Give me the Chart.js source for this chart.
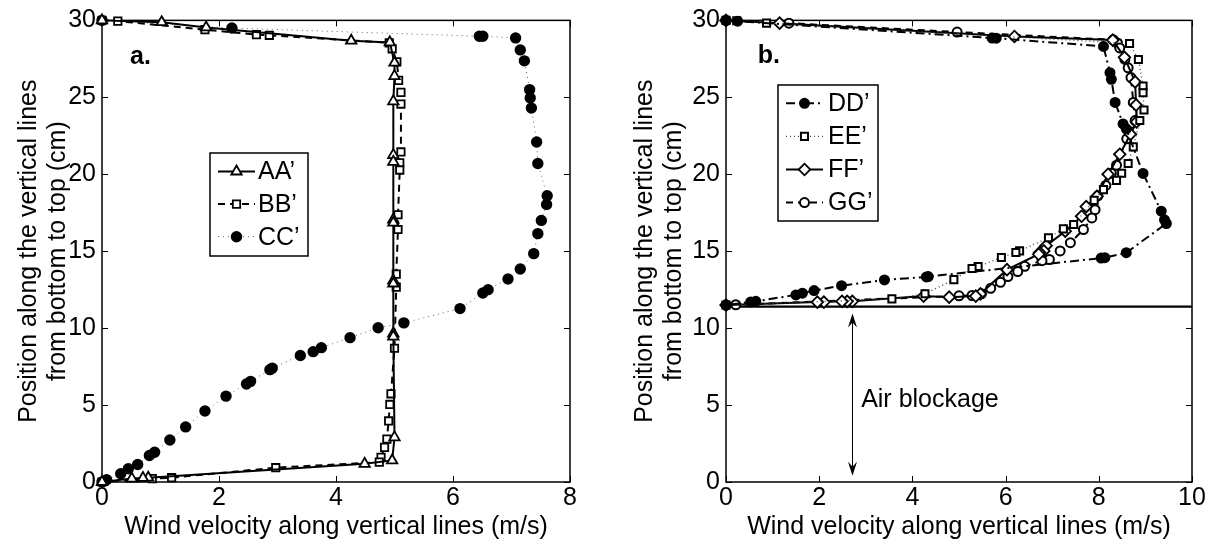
<!DOCTYPE html>
<html>
<head>
<meta charset="utf-8">
<script src="https://cdn.jsdelivr.net/npm/chart.js@4.4.1/dist/chart.umd.min.js"></script>
<style>
  html, body { margin: 0; padding: 0; background: #fff; }
  #quadro { position: relative; width: 1214px; height: 545px; overflow: hidden; }
  canvas { position: absolute; top: 0; }
  #graficoA { left: 0; }
  #graficoB { left: 607px; }
</style>
</head>
<body>
<div id="quadro">
  <canvas id="graficoA" width="607" height="545"></canvas>
  <canvas id="graficoB" width="607" height="545"></canvas>
</div>
<script>
// ---- eixos ----
const xTicksA = [0, 2, 4, 6, 8];
const xTicksB = [0, 2, 4, 6, 8, 10];
const yTicks = [0, 5, 10, 15, 20, 25, 30];
const tituloX = 'Wind velocity along vertical lines (m/s)';
const tituloY = ['Position along the vertical lines', 'from bottom to top (cm)'];

// ---- painel a ----
const aaX = [0, 1.02, 1.78, 4.26, 4.92, 5.0, 5.0, 4.98, 4.98, 4.98, 4.98, 4.98, 4.98, 4.98, 4.98, 4.98, 5.0, 4.96, 4.49, 0.79, 0.7, 0.51, 0];
const aaY = [30, 29.88, 29.54, 28.68, 28.57, 27.25, 26.38, 24.74, 21.24, 20.81, 17.05, 16.85, 13.09, 12.9, 9.65, 9.45, 2.9, 1.4, 1.18, 0.28, 0.26, 0.22, 0];

const bbX = [0, 0.27, 1.76, 2.64, 2.86, 4.91, 4.96, 5.04, 5.07, 5.11, 5.11, 5.11, 5.09, 5.09, 5.06, 5.06, 5.03, 5.03, 5.0, 4.94, 4.92, 4.9, 4.87, 4.83, 4.77, 4.74, 2.97, 1.19, 0.86, 0];
const bbY = [30, 29.95, 29.4, 29.07, 29.03, 28.54, 28.15, 27.31, 26.1, 25.32, 24.56, 21.45, 20.75, 20.27, 17.37, 16.41, 13.51, 12.66, 8.69, 5.73, 5.04, 3.97, 2.79, 2.25, 1.61, 1.29, 0.93, 0.28, 0.22, 0];

const ccX = [0, 2.22, 6.45, 6.51, 7.07, 7.15, 7.22, 7.31, 7.32, 7.34, 7.43, 7.45, 7.61, 7.6, 7.51, 7.45, 7.38, 7.15, 6.94, 6.6, 6.51, 6.12, 5.16, 4.72, 4.24, 3.75, 3.61, 3.39, 2.91, 2.87, 2.54, 2.47, 2.12, 1.76, 1.43, 1.16, 0.9, 0.81, 0.61, 0.45, 0.32, 0.08, 0];
const ccY = [30, 29.5, 28.97, 28.97, 28.86, 28.08, 27.37, 25.5, 24.96, 24.3, 22.1, 20.7, 18.6, 18.04, 17.0, 16.14, 14.84, 13.84, 13.19, 12.5, 12.28, 11.27, 10.34, 10.02, 9.38, 8.73, 8.47, 8.22, 7.4, 7.3, 6.54, 6.37, 5.58, 4.61, 3.58, 2.73, 1.93, 1.72, 1.14, 0.86, 0.54, 0.15, 0];

// ---- painel b ----
const ddX = [0, 0.25, 5.71, 5.8, 8.1, 8.24, 8.27, 8.35, 8.52, 8.59, 8.95, 9.34, 9.41, 9.45, 8.59, 8.13, 8.05, 4.34, 4.3, 3.4, 2.48, 1.89, 1.64, 1.5, 0.64, 0.53, 0];
const ddY = [30, 29.95, 28.85, 28.84, 28.31, 26.6, 26.17, 24.67, 23.27, 22.95, 20.05, 17.6, 17.04, 16.8, 14.9, 14.58, 14.55, 13.35, 13.33, 13.13, 12.76, 12.44, 12.27, 12.16, 11.74, 11.7, 11.5];

const eeX = [0, 0.23, 0.87, 8.66, 8.85, 8.95, 8.95, 8.97, 8.88, 8.74, 8.63, 8.49, 8.38, 8.1, 7.9, 7.46, 7.24, 6.92, 6.3, 6.22, 5.91, 5.41, 5.28, 4.89, 4.27, 3.56, 0];
const eeY = [30, 29.98, 29.82, 28.5, 27.46, 25.74, 25.3, 24.18, 23.49, 21.78, 20.7, 20.06, 19.6, 19.0, 18.3, 16.73, 16.45, 15.87, 15.02, 14.91, 14.59, 14.0, 13.88, 13.15, 12.23, 11.9, 11.5];

const ffX = [0, 1.15, 6.19, 8.3, 8.55, 8.78, 8.8, 8.81, 8.68, 8.45, 8.2, 7.96, 7.73, 7.63, 7.28, 6.87, 6.82, 6.73, 6.71, 6.03, 5.46, 5.36, 4.79, 4.24, 2.71, 2.6, 2.49, 2.1, 1.96, 0];
const ffY = [30, 29.82, 28.95, 28.72, 27.6, 26.0, 24.5, 23.4, 22.6, 21.3, 20.0, 18.56, 17.9, 17.27, 16.3, 15.36, 15.02, 14.91, 14.8, 13.8, 12.23, 12.08, 12.01, 12.08, 11.74, 11.74, 11.74, 11.69, 11.69, 11.5];

const ggX = [0, 1.35, 4.96, 8.31, 8.4, 8.45, 8.56, 8.63, 8.69, 8.74, 8.78, 8.6, 8.38, 8.27, 8.15, 7.98, 7.92, 7.85, 7.67, 7.39, 7.17, 6.94, 6.78, 6.41, 6.26, 6.05, 5.89, 5.68, 5.48, 5.28, 5.0, 0.21, 0];
const ggY = [30, 29.82, 29.24, 28.74, 28.53, 28.21, 27.46, 26.92, 26.28, 24.67, 23.49, 22.3, 20.59, 20.06, 19.27, 18.6, 17.7, 17.16, 16.41, 15.55, 15.02, 14.46, 14.38, 14.02, 13.68, 13.35, 12.98, 12.59, 12.23, 12.12, 12.1, 11.52, 11.5];

// bloqueio de ar
const bloqueioX = [0, 10];
const bloqueioY = [11.4, 11.4];
const setaX = 2.7, setaTopo = 10.95, setaBase = 0.4;
const textoBloqueio = 'Air blockage';
const textoBloqueioPos = [2.9, 5.3];

const FONTE = '"Liberation Sans", Arial, Helvetica, sans-serif';

function serie(label, xs, ys, estilo) {
  return Object.assign({
    label: label,
    data: xs.map((x, i) => ({ x: x, y: ys[i] })),
    showLine: true,
    borderColor: '#000',
    borderWidth: 2,
    pointBorderColor: '#000',
    pointBackgroundColor: '#fff',
    pointBorderWidth: 1.8,
    clip: false,
    tension: 0
  }, estilo);
}

function escalas(xMax, xTicks, larguraY, padTituloY) {
  const fonte = { size: 25, family: FONTE, lineHeight: 1.15 };
  return {
    x: {
      type: 'linear', min: 0, max: xMax,
      afterBuildTicks: s => { s.ticks = xTicks.map(v => ({ value: v })); },
      afterFit: s => { s.height = 63; },
      grid: { display: false, drawTicks: false },
      border: { display: false },
      ticks: { color: '#000', font: fonte, padding: 2, maxRotation: 0, autoSkip: false },
      title: { display: true, text: tituloX, color: '#000', font: fonte, padding: { top: 0, bottom: 4 } }
    },
    y: {
      type: 'linear', min: 0, max: 30,
      afterBuildTicks: s => { s.ticks = yTicks.map(v => ({ value: v })); },
      afterFit: s => { s.width = larguraY; },
      grid: { display: false, drawTicks: false },
      border: { display: false },
      ticks: { color: '#000', font: fonte, padding: 6, autoSkip: false },
      title: { display: true, text: tituloY, color: '#000', font: fonte, padding: { top: padTituloY, bottom: 0 } }
    }
  };
}

// moldura com marcas para dentro (estilo MATLAB)
const moldura = {
  id: 'moldura',
  beforeDatasetsDraw(chart) {
    const { ctx, chartArea: a, scales } = chart;
    ctx.save();
    ctx.strokeStyle = '#000';
    ctx.lineWidth = 1;
    ctx.beginPath();
    scales.x.ticks.forEach(t => {
      const px = Math.round(scales.x.getPixelForValue(t.value)) + 0.5;
      ctx.moveTo(px, a.bottom); ctx.lineTo(px, a.bottom - 6);
      ctx.moveTo(px, a.top); ctx.lineTo(px, a.top + 6);
    });
    scales.y.ticks.forEach(t => {
      const py = Math.round(scales.y.getPixelForValue(t.value)) + 0.5;
      ctx.moveTo(a.left, py); ctx.lineTo(a.left + 6, py);
      ctx.moveTo(a.right, py); ctx.lineTo(a.right - 6, py);
    });
    ctx.stroke();
    ctx.lineWidth = 1.5;
    ctx.strokeRect(a.left, a.top, a.right - a.left, a.bottom - a.top);
    ctx.restore();
  }
};

function desenharMarcador(ctx, ds, x, y) {
  ctx.save();
  ctx.setLineDash([]);
  ctx.fillStyle = ds.pointBackgroundColor;
  ctx.strokeStyle = ds.pointBorderColor;
  ctx.lineWidth = ds.pointBorderWidth;
  Chart.helpers.drawPoint(ctx, { pointStyle: ds.pointStyle, radius: ds.pointRadius, rotation: 0, borderWidth: ds.pointBorderWidth }, x, y);
  ctx.restore();
}

// legenda desenhada dentro do gráfico
const legendaCaixa = {
  id: 'legendaCaixa',
  afterDraw(chart, args, opts) {
    const ctx = chart.ctx;
    const itens = chart.data.datasets.filter(d => d.label);
    ctx.save();
    ctx.fillStyle = '#fff';
    ctx.fillRect(opts.x, opts.y, opts.w, opts.h);
    ctx.strokeStyle = '#000';
    ctx.lineWidth = 1.5;
    ctx.strokeRect(opts.x, opts.y, opts.w, opts.h);
    itens.forEach((ds, i) => {
      const cy = opts.linha0 + i * opts.passo;
      ctx.save();
      ctx.strokeStyle = ds.borderColor;
      ctx.lineWidth = ds.borderWidth;
      ctx.setLineDash(ds.borderDash || []);
      ctx.beginPath();
      ctx.moveTo(opts.x + opts.traco0, cy);
      ctx.lineTo(opts.x + opts.traco1, cy);
      ctx.stroke();
      ctx.restore();
      desenharMarcador(ctx, ds, opts.x + (opts.traco0 + opts.traco1) / 2, cy);
      ctx.fillStyle = '#000';
      ctx.font = '25px ' + FONTE;
      ctx.textBaseline = 'middle';
      ctx.textAlign = 'left';
      ctx.fillText(ds.label, opts.x + opts.texto, cy + 1);
    });
    ctx.restore();
  }
};

// letras dos painéis e anotações
const anotacoes = {
  id: 'anotacoes',
  afterDatasetsDraw(chart, args, opts) {
    const { ctx, scales } = chart;
    ctx.save();
    ctx.fillStyle = '#000';
    ctx.font = 'bold 25px ' + FONTE;
    ctx.textBaseline = 'alphabetic';
    ctx.fillText(opts.letra, scales.x.getPixelForValue(opts.letraPos[0]), scales.y.getPixelForValue(opts.letraPos[1]));
    if (opts.seta) {
      const sx = Math.round(scales.x.getPixelForValue(setaX)) + 0.5;
      const y1 = scales.y.getPixelForValue(setaTopo);
      const y2 = scales.y.getPixelForValue(setaBase);
      ctx.strokeStyle = '#000';
      ctx.lineWidth = 1;
      ctx.beginPath();
      ctx.moveTo(sx, y1 + 6); ctx.lineTo(sx, y2 - 6);
      ctx.stroke();
      [[y1, 1], [y2, -1]].forEach(([py, d]) => {
        ctx.beginPath();
        ctx.moveTo(sx, py);
        ctx.lineTo(sx - 4.5, py + d * 14);
        ctx.lineTo(sx, py + d * 9);
        ctx.lineTo(sx + 4.5, py + d * 14);
        ctx.closePath();
        ctx.fill();
      });
      ctx.font = '25px ' + FONTE;
      ctx.textBaseline = 'middle';
      ctx.fillText(textoBloqueio, scales.x.getPixelForValue(textoBloqueioPos[0]), scales.y.getPixelForValue(textoBloqueioPos[1]));
    }
    ctx.restore();
  }
};

Chart.defaults.font.family = FONTE;

new Chart(document.getElementById('graficoA').getContext('2d'), {
  type: 'scatter',
  data: {
    datasets: [
      serie('AA\u2019', aaX, aaY, { pointStyle: 'triangle', pointRadius: 6 }),
      serie('BB\u2019', bbX, bbY, { borderDash: [7, 5], pointStyle: 'rect', pointRadius: 5.2 }),
      serie('CC\u2019', ccX, ccY, { borderColor: '#666', borderWidth: 1, borderDash: [1, 4], pointStyle: 'circle', pointRadius: 4.8, pointBackgroundColor: '#000' })
    ]
  },
  options: {
    responsive: false,
    animation: false,
    layout: { padding: { left: 0, right: 37, top: 15, bottom: 0 } },
    scales: escalas(8, xTicksA, 102, 14.6),
    plugins: {
      legend: { display: false },
      tooltip: { enabled: false },
      legendaCaixa: { x: 210, y: 153, w: 98, h: 103, linha0: 171.5, passo: 32.6, traco0: 8, traco1: 45, texto: 48 },
      anotacoes: { letra: 'a.', letraPos: [0.48, 27.14], seta: false }
    }
  },
  plugins: [moldura, anotacoes, legendaCaixa]
});

new Chart(document.getElementById('graficoB').getContext('2d'), {
  type: 'scatter',
  data: {
    datasets: [
      serie('DD\u2019', ddX, ddY, { borderDash: [9, 4, 2, 4], pointStyle: 'circle', pointRadius: 4.6, pointBackgroundColor: '#000' }),
      serie('EE\u2019', eeX, eeY, { borderColor: '#444', borderWidth: 1.3, borderDash: [1, 3], pointStyle: 'rect', pointRadius: 5, pointBorderWidth: 2 }),
      serie('FF\u2019', ffX, ffY, { pointStyle: 'rectRot', pointRadius: 5.8 }),
      serie('GG\u2019', ggX, ggY, { borderDash: [7, 5], pointStyle: 'circle', pointRadius: 4.5, pointBorderWidth: 2 }),
      serie('', bloqueioX, bloqueioY, { borderWidth: 2.4, pointRadius: 0 })
    ]
  },
  options: {
    responsive: false,
    animation: false,
    layout: { padding: { left: 0, right: 22, top: 15, bottom: 0 } },
    scales: escalas(10, xTicksB, 119, 24),
    plugins: {
      legend: { display: false },
      tooltip: { enabled: false },
      legendaCaixa: { x: 171, y: 85, w: 100, h: 136, linha0: 103.3, passo: 33.1, traco0: 8, traco1: 45, texto: 50 },
      anotacoes: { letra: 'b.', letraPos: [0.68, 27.25], seta: true }
    }
  },
  plugins: [moldura, anotacoes, legendaCaixa]
});
</script>
</body>
</html>
